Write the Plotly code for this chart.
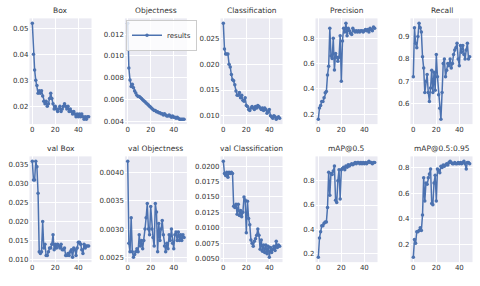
import plotly.graph_objects as go

epochs = list(range(50))

box = [0.052, 0.040, 0.034, 0.030, 0.028, 0.025, 0.026, 0.025, 0.026, 0.024,
       0.022, 0.021, 0.022, 0.020, 0.021, 0.023, 0.025, 0.023, 0.021, 0.019,
       0.020, 0.019, 0.018, 0.019, 0.020, 0.018, 0.019, 0.020, 0.021, 0.020,
       0.019, 0.020, 0.018, 0.019, 0.018, 0.017, 0.018, 0.017, 0.016, 0.017,
       0.016, 0.017, 0.016, 0.017, 0.016, 0.015, 0.016, 0.015, 0.016, 0.016]

objectness = [0.0130, 0.0089, 0.0078, 0.0072, 0.0074, 0.0071, 0.0068, 0.0066, 0.0064, 0.0063,
              0.0063, 0.0062, 0.0061, 0.0060, 0.0059, 0.0058, 0.0057, 0.0056, 0.0055, 0.0054,
              0.0053, 0.0052, 0.0051, 0.0050, 0.0050, 0.0049, 0.0049, 0.0048, 0.0048, 0.0047,
              0.0047, 0.0046, 0.0047, 0.0046, 0.0045, 0.0045, 0.0046, 0.0045, 0.0044, 0.0045,
              0.0044, 0.0044, 0.0043, 0.0044, 0.0043, 0.0042, 0.0042, 0.0042, 0.0042, 0.0042]

classification = [0.0280, 0.0230, 0.0220, 0.0220, 0.0220, 0.0200, 0.0195, 0.0180, 0.0170, 0.0168,
                  0.0160, 0.0148, 0.0140, 0.0140, 0.0145, 0.0135, 0.0140, 0.0130, 0.0128, 0.0135,
                  0.0120, 0.0118, 0.0112, 0.0110, 0.0115, 0.0118, 0.0115, 0.0112, 0.0118, 0.0115,
                  0.0120, 0.0118, 0.0115, 0.0112, 0.0115, 0.0110, 0.0115, 0.0112, 0.0105, 0.0108,
                  0.0112, 0.0100, 0.0098, 0.0095, 0.0100, 0.0098, 0.0093, 0.0096, 0.0098, 0.0095]

precision = [0.16, 0.25, 0.27, 0.30, 0.30, 0.33, 0.37, 0.38, 0.51, 0.58,
             0.88, 0.66, 0.64, 0.80, 0.55, 0.68, 0.65, 0.62, 0.65, 0.82,
             0.46, 0.78, 0.88, 0.85, 0.92, 0.82, 0.88, 0.86, 0.84, 0.83,
             0.88, 0.86, 0.85, 0.86, 0.85, 0.86, 0.85, 0.86, 0.86, 0.85,
             0.86, 0.87, 0.86, 0.87, 0.85, 0.88, 0.87, 0.86, 0.89, 0.88]

recall = [0.72, 0.94, 0.87, 0.85, 0.90, 0.96, 0.94, 0.92, 0.81, 0.76,
          0.65, 0.70, 0.73, 0.65, 0.61, 0.67, 0.75, 0.65, 0.74, 0.66,
          0.82, 0.72, 0.64, 0.58, 0.53, 0.65, 0.78, 0.80, 0.72, 0.75,
          0.78, 0.77, 0.80, 0.76, 0.78, 0.82, 0.84, 0.85, 0.87, 0.80,
          0.77, 0.86, 0.83, 0.86, 0.82, 0.80, 0.84, 0.87, 0.80, 0.81]

val_box = [0.0360, 0.0310, 0.0310, 0.0360, 0.0345, 0.0275, 0.0120, 0.0115, 0.0120, 0.0200,
           0.0130, 0.0140, 0.0110, 0.0110, 0.0120, 0.0130, 0.0130, 0.0140, 0.0165, 0.0125,
           0.0140, 0.0130, 0.0140, 0.0135, 0.0130, 0.0140, 0.0125, 0.0125, 0.0130, 0.0110,
           0.0110, 0.0115, 0.0110, 0.0120, 0.0125, 0.0105, 0.0130, 0.0125, 0.0110, 0.0130,
           0.0145, 0.0145, 0.0140, 0.0125, 0.0115, 0.0140, 0.0130, 0.0135, 0.0135, 0.0135]

val_objectness = [0.00420, 0.00275, 0.00260, 0.00320, 0.00260, 0.00250, 0.00255, 0.00260, 0.00265, 0.00260,
                  0.00290, 0.00270, 0.00280, 0.00265, 0.00280, 0.00300, 0.00320, 0.00345, 0.00300, 0.00290,
                  0.00340, 0.00300, 0.00285, 0.00270, 0.00345, 0.00330, 0.00260, 0.00310, 0.00280, 0.00300,
                  0.00315, 0.00290, 0.00270, 0.00260, 0.00275, 0.00265, 0.00290, 0.00280, 0.00300, 0.00275,
                  0.00265, 0.00290, 0.00295, 0.00280, 0.00295, 0.00280, 0.00290, 0.00280, 0.00290, 0.00285]

val_classification = [0.0208, 0.0188, 0.0185, 0.0190, 0.0182, 0.0190, 0.0188, 0.0190, 0.0188, 0.0135,
                      0.0133, 0.0138, 0.0122, 0.0138, 0.0120, 0.0128, 0.0118, 0.0125, 0.0150, 0.0145,
                      0.0092, 0.0143, 0.0115, 0.0105, 0.0080, 0.0075, 0.0070, 0.0078, 0.0082, 0.0088,
                      0.0098, 0.0088, 0.0065, 0.0080, 0.0062, 0.0072, 0.0060, 0.0072, 0.0058, 0.0070,
                      0.0052, 0.0068, 0.0060, 0.0065, 0.0070, 0.0063, 0.0078, 0.0068, 0.0072, 0.0070]

map50 = [0.17, 0.33, 0.38, 0.43, 0.43, 0.45, 0.46, 0.46, 0.58, 0.87,
         0.68, 0.86, 0.85, 0.88, 0.92, 0.64, 0.62, 0.80, 0.89, 0.65,
         0.89, 0.90, 0.91, 0.89, 0.92, 0.91, 0.93, 0.92, 0.93, 0.94,
         0.93, 0.94, 0.95, 0.94, 0.95, 0.95, 0.94, 0.95, 0.94, 0.95,
         0.94, 0.95, 0.94, 0.95, 0.96, 0.95, 0.95, 0.94, 0.95, 0.95]

map5095 = [0.10, 0.24, 0.21, 0.30, 0.30, 0.31, 0.33, 0.31, 0.43, 0.72,
           0.54, 0.68, 0.67, 0.72, 0.75, 0.79, 0.52, 0.51, 0.68, 0.74,
           0.54, 0.79, 0.78, 0.76, 0.81, 0.80, 0.82, 0.81, 0.82, 0.83,
           0.82, 0.84, 0.85, 0.84, 0.83, 0.83, 0.84, 0.83, 0.83, 0.84,
           0.83, 0.84, 0.83, 0.84, 0.85, 0.83, 0.79, 0.84, 0.84, 0.83]

titles = ["Box", "Objectness", "Classification", "Precision", "Recall",
          "val Box", "val Objectness", "val Classification", "mAP@0.5", "mAP@0.5:0.95"]
series = [box, objectness, classification, precision, recall,
          val_box, val_objectness, val_classification, map50, map5095]
dticks = [0.01, 0.002, 0.005, 0.2, 0.1, 0.005, 0.0005, 0.0025, 0.2, 0.2]
fmts = [".2f", ".3f", ".3f", ".1f", ".1f", ".3f", ".4f", ".4f", ".1f", ".1f"]

W, H = 480, 286
lefts = [29.5, 124.9, 220.5, 315.5, 410.5]
pw = 62
rows_px = [(18.5, 125.0), (157.5, 264.0)]

BLUE = "#4C72B0"
TXT = "#333333"
fig = go.Figure()
layout = dict(
    width=W, height=H, margin=dict(l=0, r=0, t=0, b=0),
    paper_bgcolor="white", plot_bgcolor="#EAEAF2",
    font=dict(family="DejaVu Sans", size=7, color=TXT),
    showlegend=True,
    legend=dict(x=126 / W, y=1 - 20 / H, xanchor="left", yanchor="top",
                bgcolor="rgba(255,255,255,0.8)", bordercolor="#CCCCCC", borderwidth=1,
                font=dict(size=7, color=TXT), itemwidth=30,
                tracegroupgap=0),
)
annotations = []
xmin, xmax = min(epochs), max(epochs)
xpad = 0.05 * (xmax - xmin)
for i, (t, s) in enumerate(zip(titles, series)):
    r, c = divmod(i, 5)
    n = i + 1
    xa = "x" if n == 1 else f"x{n}"
    ya = "y" if n == 1 else f"y{n}"
    fig.add_trace(go.Scatter(
        x=epochs, y=s, mode="lines+markers", name="results",
        line=dict(color=BLUE, width=1.5), marker=dict(color=BLUE, size=3.5),
        showlegend=(i == 1), xaxis=xa, yaxis=ya))
    x0 = lefts[c] / W
    x1 = (lefts[c] + pw) / W
    top, bot = rows_px[r]
    y0 = 1 - bot / H
    y1 = 1 - top / H
    lo, hi = min(s), max(s)
    pad = 0.05 * (hi - lo)
    layout[f"xaxis{n}"] = dict(
        domain=[x0, x1], anchor=ya, range=[xmin - xpad, xmax + xpad],
        tickvals=[0, 20, 40], showgrid=True, gridcolor="white", gridwidth=1,
        zeroline=False, showline=False, ticks="", tickfont=dict(size=7, color=TXT))
    layout[f"yaxis{n}"] = dict(
        domain=[y0, y1], anchor=xa, range=[lo - pad, hi + pad],
        dtick=dticks[i], tick0=0, tickformat=fmts[i], showgrid=True, gridcolor="white",
        gridwidth=1, zeroline=False, showline=False, ticks="",
        tickfont=dict(size=7, color=TXT))
    annotations.append(dict(
        text=t, x=(x0 + x1) / 2, y=y1, xref="paper", yref="paper",
        xanchor="center", yanchor="bottom", yshift=1, showarrow=False,
        font=dict(size=7.5, color=TXT)))
layout["annotations"] = annotations
fig.update_layout(**layout)
fig.write_html("out.html", config={"displayModeBar": False},
               post_script="document.body.style.margin='0px';document.body.style.padding='0px';")
